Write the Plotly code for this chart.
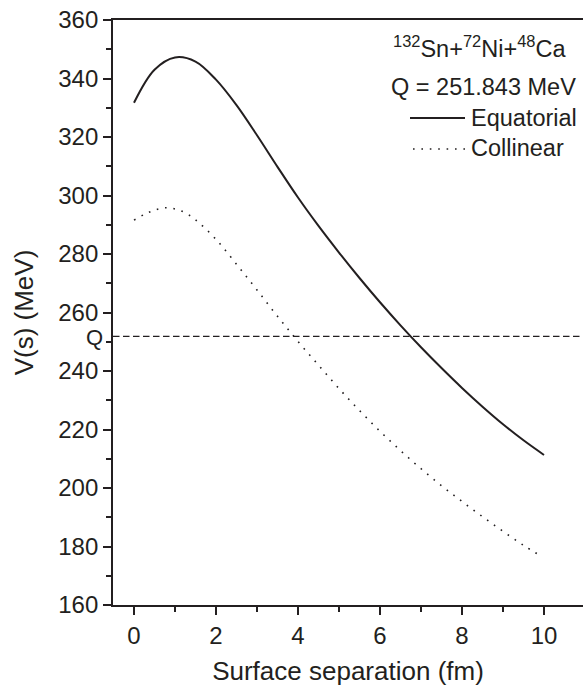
import plotly.graph_objects as go

# ---- data ----
s_equatorial = [0.0, 0.5, 1.0, 1.5, 2.0, 2.5, 3.0, 3.5, 4.0, 4.5, 5.0, 5.5, 6.0, 6.5,
                7.0, 7.5, 8.0, 8.5, 9.0, 9.5, 10.0]
v_equatorial = [331.7, 343.0, 347.2, 345.8, 339.6, 330.9, 320.6, 309.8, 299.3, 289.6,
                280.5, 271.8, 263.5, 255.6, 248.1, 241.0, 234.2, 227.8, 221.8, 216.3, 211.3]

s_collinear = [0.0, 0.25, 0.5, 0.75, 1.0, 1.25, 1.5, 2.0, 2.5, 3.0, 3.5, 4.0, 4.5, 5.0,
               5.5, 6.0, 6.5, 7.0, 7.5, 8.0, 8.5, 9.0, 9.5, 9.92]
v_collinear = [291.6, 293.5, 295.0, 295.8, 295.4, 294.1, 291.7, 285.0, 276.5, 267.7,
               258.7, 250.1, 242.0, 234.0, 226.5, 219.4, 212.8, 206.6, 200.8, 195.4,
               190.2, 185.2, 180.4, 176.8]

Q_VALUE = 251.843
x_ticks = [0, 2, 4, 6, 8, 10]
y_ticks = [160, 180, 200, 220, 240, 260, 280, 300, 320, 340, 360]

# ---- layout geometry (pixels) ----
W, H = 583, 686
ML, MT, MR, MB = 113, 20, 0, 81
PW, PH = W - ML - MR, H - MT - MB

def px_x(px):
    return (px - ML) / PW

def px_y(py):
    return (H - MB - py) / PH

INK = "#231f20"
FONT = "Liberation Sans, Arial, sans-serif"
LEG = 23.5

fig = go.Figure()
fig.add_trace(go.Scatter(x=s_equatorial, y=v_equatorial, mode="lines",
                         line=dict(color=INK, width=2, shape="spline", smoothing=1.0),
                         name="Equatorial", showlegend=False))
fig.add_trace(go.Scatter(x=s_collinear, y=v_collinear, mode="lines",
                         line=dict(color=INK, width=1.6, shape="spline", smoothing=1.0,
                                   dash="1.6px,6.8px"),
                         name="Collinear", showlegend=False))

fig.add_hline(y=Q_VALUE, line=dict(color=INK, width=1.3, dash="6.5px,3.5px"))

# "Q" label on the y axis
fig.add_annotation(x=0, xref="paper", y=Q_VALUE, yref="y", text="Q", showarrow=False,
                   xanchor="right", yanchor="middle", xshift=-8, yshift=-1,
                   font=dict(family=FONT, size=22, color=INK))

# legend-style text block
fig.add_annotation(x=px_x(568), y=px_y(47), xref="paper", yref="paper",
                   text="<sup>132</sup>Sn+<sup>72</sup>Ni+<sup>48</sup>Ca",
                   showarrow=False, xanchor="right", yanchor="middle",
                   font=dict(family=FONT, size=LEG, color=INK))
fig.add_annotation(x=px_x(578), y=px_y(87), xref="paper", yref="paper",
                   text="Q = 251.843 MeV", showarrow=False, xanchor="right", yanchor="middle",
                   font=dict(family=FONT, size=LEG, color=INK))
fig.add_annotation(x=px_x(469), y=px_y(118), xref="paper", yref="paper",
                   text="Equatorial", showarrow=False, xanchor="left", yanchor="middle",
                   font=dict(family=FONT, size=LEG, color=INK))
fig.add_annotation(x=px_x(469), y=px_y(148), xref="paper", yref="paper",
                   text="Collinear", showarrow=False, xanchor="left", yanchor="middle",
                   font=dict(family=FONT, size=LEG, color=INK))
fig.add_shape(type="line", xref="paper", yref="paper",
              x0=px_x(410), x1=px_x(465), y0=px_y(118), y1=px_y(118),
              line=dict(color=INK, width=2))
fig.add_shape(type="line", xref="paper", yref="paper",
              x0=px_x(413), x1=px_x(465), y0=px_y(149), y1=px_y(149),
              line=dict(color=INK, width=1.6, dash="1.6px,6.8px"))

x0_px = 134.0
unit_px = 41.0
x_range = [(ML - x0_px) / unit_px, (W - MR - x0_px) / unit_px]

fig.update_layout(
    width=W, height=H,
    margin=dict(l=ML, r=MR, t=MT, b=MB),
    paper_bgcolor="white", plot_bgcolor="white",
    font=dict(family=FONT, color=INK),
    xaxis=dict(range=x_range, tickvals=x_ticks, ticks="outside", ticklen=8, tickwidth=1.6,
               tickcolor=INK, showline=True, linewidth=1.8, linecolor=INK, mirror=True,
               showgrid=False, zeroline=False,
               minor=dict(dtick=1, ticks="outside", ticklen=5, tickwidth=1.6, tickcolor=INK,
                          showgrid=False),
               tickfont=dict(size=24, color=INK, family=FONT),
               title=dict(text="Surface separation (fm)", font=dict(size=26, color=INK, family=FONT),
                          standoff=14)),
    yaxis=dict(range=[160, 360], tickvals=y_ticks, ticks="outside", ticklen=8, tickwidth=1.6,
               tickcolor=INK, showline=True, linewidth=1.8, linecolor=INK, mirror=False,
               showgrid=False, zeroline=False,
               minor=dict(dtick=10, ticks="outside", ticklen=5, tickwidth=1.6, tickcolor=INK,
                          showgrid=False),
               tickfont=dict(size=24, color=INK, family=FONT),
               title=dict(text="V(s) (MeV)", font=dict(size=26, color=INK, family=FONT),
                          standoff=17)),
)

fig.write_html("out.html")
